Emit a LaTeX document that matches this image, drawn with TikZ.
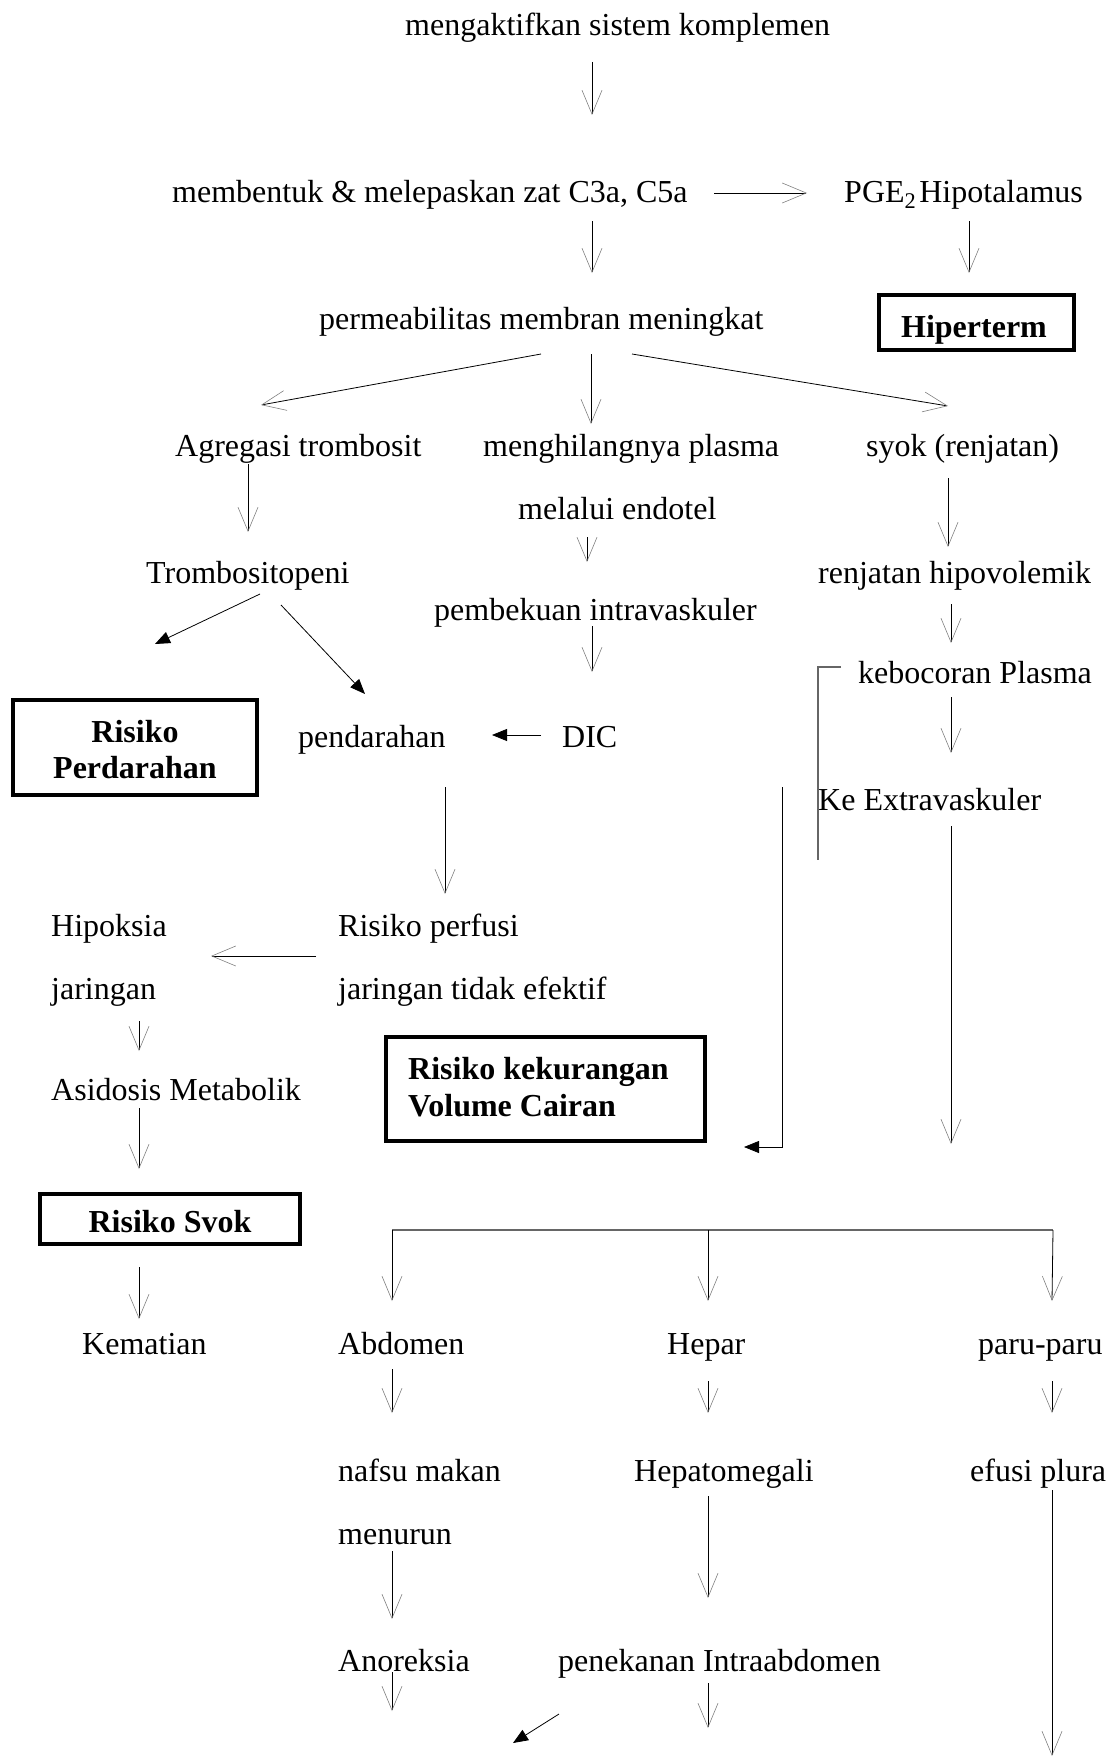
\documentclass[tikz,border=0pt]{standalone}
\usepackage{fontspec}
\setmainfont{Liberation Serif}
\usetikzlibrary{arrows.meta}
\begin{document}
\begin{tikzpicture}[x=1pt,y=-1pt,
  txt/.style={anchor=base west, inner sep=0pt, yshift=-3pt, font=\fontsize{32}{38}\selectfont},
  bx/.style={draw, line width=4pt, inner sep=0pt},
  bxt/.style={inner sep=0pt, align=center, font=\fontsize{32}{36}\selectfont\bfseries},
  ar/.style={draw=black, line width=0.8pt, -{Straight Barb[length=24pt,width=20pt,line width=0.6pt,color=gray]}},
  far/.style={draw=black, line width=0.8pt, -{Triangle[length=15pt,width=12pt]}},
  gline/.style={draw=gray!80!black, line width=1.5pt}
]
\useasboundingbox (0,0) rectangle (1113,1763);
% texts
\node[txt] (t1) at (405,33) {mengaktifkan sistem komplemen};
\node[txt] (t2) at (172,199) {membentuk \& melepaskan zat C3a, C5a};
\node[txt] (t3) at (844,199) {PGE\textsubscript{2}\hspace{3pt}Hipotalamus};
\node[txt] (t4) at (319,326) {permeabilitas membran meningkat};
\node[txt] (t5) at (175,453) {Agregasi trombosit};
\node[txt] (t6) at (483,453) {menghilangnya plasma};
\node[txt] (t7) at (866,453) {syok (renjatan)};
\node[txt] (t8) at (518,516) {melalui endotel};
\node[txt] (t9) at (146,580) {Trombositopeni};
\node[txt] (t10) at (818,580) {renjatan hipovolemik};
\node[txt] (t11) at (434,617) {pembekuan intravaskuler};
\node[txt] (t12) at (858,680) {kebocoran Plasma};
\node[txt] (t13) at (298,744) {pendarahan};
\node[txt] (t14) at (562,744) {DIC};
\node[txt] (t15) at (818,807) {Ke Extravaskuler};
\node[txt] (t16) at (51,933) {Hipoksia};
\node[txt] (t17) at (51,996) {jaringan};
\node[txt] (t18) at (338,933) {Risiko perfusi};
\node[txt] (t19) at (338,996) {jaringan tidak efektif};
\node[txt] (t20) at (51,1097) {Asidosis Metabolik};
\node[txt] (t21) at (82,1351) {Kematian};
\node[txt] (t22) at (338,1351) {Abdomen};
\node[txt] (t23) at (667,1351) {Hepar};
\node[txt] (t24) at (978,1351) {paru-paru};
\node[txt] (t25) at (338,1478) {nafsu makan};
\node[txt] (t26) at (634,1478) {Hepatomegali};
\node[txt] (t27) at (970,1478) {efusi plura};
\node[txt] (t28) at (338,1541) {menurun};
\node[txt] (t29) at (338,1668) {Anoreksia};
\node[txt] (t30) at (558,1668) {penekanan Intraabdomen};
% boxes
\node[bx, minimum width=195pt, minimum height=55pt] (hip) at (976,322) {};
\node[bxt] (hipt) at (974,330) {Hiperterm};
\node[bx, minimum width=244pt, minimum height=95pt] (rp) at (135,747) {};
\node[bxt] (rpt) at (135,750) {Risiko\\Perdarahan};
\node[bx, minimum width=319pt, minimum height=104pt] (rkv) at (545,1089) {};
\node[anchor=west, inner sep=0pt, align=left, font=\fontsize{32}{37}\selectfont\bfseries] (rkvt) at (408,1087) {Risiko kekurangan\\Volume Cairan};
\node[bx, line width=3.5pt, minimum width=260pt, minimum height=50pt] (rs) at (170,1219) {};
\node[bxt] (rst) at (170,1222) {Risiko Svok};
% coordinates
\foreach \n/\x/\y in {
 a1s/592/62, a1e/592/115, a2s/714/193, a2e/807/193,
 a3s/592/221, a3e/592/273, a4s/969/221, a4e/969/273,
 a5s/541/354, a5e/261/405, a6s/591/354, a6e/591/424, a7s/632/354, a7e/948/406,
 a8s/248/464, a8e/248/532, a9s/587/537, a9e/587/562, a10s/948/478, a10e/948/547,
 a11s/260/594, a11e/155/644, a12s/281/605, a12e/365/694,
 a13s/951/604, a13e/951/643, a14s/592/626, a14e/592/672,
 b1/841/667, b2/818/667, b3/818/860,
 a15s/541/735, a15e/492/735, a16s/951/697, a16e/951/753,
 l1/782/787, l2/782/1147, l3/744/1147,
 a17s/445/787, a17e/445/894, a18s/951/826, a18e/951/1144,
 a19s/316/956, a19e/211/956, a20s/139/1021, a20e/139/1051,
 a21s/139/1108, a21e/139/1169,
 h1/392/1230, h2/708/1230, h3/1053/1230,
 h1e/392/1301, h2e/708/1301, h3e/1052/1301,
 a25s/139/1267, a25e/139/1319,
 a26s/392/1369, a26e/392/1413, a27s/708/1381, a27e/708/1413, a28s/1052/1381, a28e/1052/1413,
 a29s/392/1551, a29e/392/1619, a30s/708/1496, a30e/708/1598, a31s/1052/1490, a31e/1052/1756,
 a32s/392/1672, a32e/392/1711, a33s/708/1683, a33e/708/1728,
 a34s/559/1714, a34e/513/1743}
 {\coordinate (\n) at (\x,\y);}
% connectors
\draw[ar] (a1s) -- (a1e);
\draw[ar] (a2s) -- (a2e);
\draw[ar] (a3s) -- (a3e);
\draw[ar] (a4s) -- (a4e);
\draw[ar] (a5s) -- (a5e);
\draw[ar] (a6s) -- (a6e);
\draw[ar] (a7s) -- (a7e);
\draw[ar] (a8s) -- (a8e);
\draw[ar] (a9s) -- (a9e);
\draw[ar] (a10s) -- (a10e);
\draw[far] (a11s) -- (a11e);
\draw[far] (a12s) -- (a12e);
\draw[ar] (a13s) -- (a13e);
\draw[ar] (a14s) -- (a14e);
\draw[gline] (b1) -- (b2) -- (b3);
\draw[far] (a15s) -- (a15e);
\draw[ar] (a16s) -- (a16e);
\draw[far] (l1) -- (l2) -- (l3);
\draw[ar] (a17s) -- (a17e);
\draw[ar] (a18s) -- (a18e);
\draw[ar] (a19s) -- (a19e);
\draw[ar] (a20s) -- (a20e);
\draw[ar] (a21s) -- (a21e);
\draw[gline] (h1) -- (h3);
\draw[ar] (h1) -- (h1e);
\draw[ar] (h2) -- (h2e);
\draw[ar] (h3) -- (h3e);
\draw[ar] (a25s) -- (a25e);
\draw[ar] (a26s) -- (a26e);
\draw[ar] (a27s) -- (a27e);
\draw[ar] (a28s) -- (a28e);
\draw[ar] (a29s) -- (a29e);
\draw[ar] (a30s) -- (a30e);
\draw[ar] (a31s) -- (a31e);
\draw[ar] (a32s) -- (a32e);
\draw[ar] (a33s) -- (a33e);
\draw[far] (a34s) -- (a34e);
\end{tikzpicture}
\end{document}
